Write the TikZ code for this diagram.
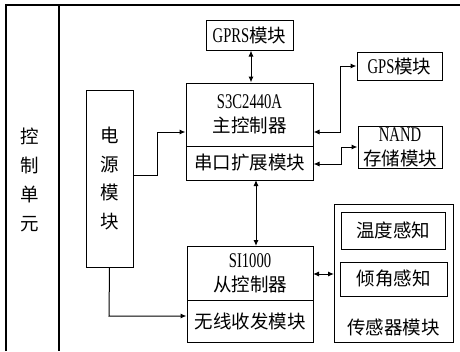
\documentclass[tikz,border=0pt]{standalone}
\usepackage{fontspec}
\setmainfont{Liberation Serif}[FakeStretch=0.7,Scale=1.13]
\newfontfamily\cjk{Noto Sans CJK SC}
\usetikzlibrary{arrows.meta}
\newcommand{\zh}[1]{{\cjk #1}}
\begin{document}
\begin{tikzpicture}[x=1pt,y=-1pt,
  line width=1pt,
  box/.style={draw,rectangle,inner sep=0pt,font=\fontsize{18.5}{24}\selectfont,align=center},
  arr/.style={{Latex[length=6pt,width=5pt]}-{Latex[length=6pt,width=5pt]}},
  onearr/.style={-{Latex[length=6pt,width=5pt]}}]
\useasboundingbox (0,0) rectangle (460,351);
% frame
\draw[line width=1.3pt] (6,351) -- (6,5) -- (460,5);
\draw[line width=1.3pt] (59,5) -- (59,351);
\node[font=\fontsize{18.5}{29}\selectfont,align=center] (ctrl) at (30,180) {\zh{控}\\\zh{制}\\\zh{单}\\\zh{元}};
% boxes
\node[box,minimum width=87pt,minimum height=30pt] (gprs) at (249.5,35) {GPRS\zh{模块}};
\node[box,minimum width=127pt,minimum height=63pt] (main) at (249.5,114.5) {S3C2440A\\\zh{主控制器}};
\node[box,minimum width=127pt,minimum height=34pt] (uart) at (249.5,163) {\zh{串口扩展模块}};
\node[box,minimum width=47pt,minimum height=177pt,font=\fontsize{18.5}{28.5}\selectfont] (power) at (109.5,178.5) {\zh{电}\\\zh{源}\\\zh{模}\\\zh{块}};
\node[box,minimum width=126pt,minimum height=54pt] (si) at (250,273) {SI1000\\\zh{从控制器}};
\node[box,minimum width=126pt,minimum height=42pt] (rf) at (250,321) {\zh{无线收发模块}};
\node[box,minimum width=85pt,minimum height=28pt] (gps) at (399.5,66) {GPS\zh{模块}};
\node[box,minimum width=84pt,minimum height=42pt] (nand) at (400,147) {NAND\\\zh{存储模块}};
\node[box,minimum width=119pt,minimum height=138pt] (sensor) at (393.5,273) {};
\node[box,minimum width=104pt,minimum height=37pt] (temp) at (393,230.5) {\zh{温度感知}};
\node[box,minimum width=107pt,minimum height=34pt] (tilt) at (393.5,279) {\zh{倾角感知}};
\node[font=\fontsize{18.5}{24}\selectfont] (senlab) at (393.5,327) {\zh{传感器模块}};
% helper coordinates
\coordinate (g0) at (251,0);
\coordinate (g1) at (340,132);
\coordinate (n1) at (341,164);
\coordinate (p1) at (157,175);
\coordinate (p2) at (157,132);
\coordinate (q1) at (109,316);
\coordinate (m1) at (256,180);
\coordinate (s1) at (256,246);
\coordinate (t1) at (313,274);
\coordinate (t2) at (334,274);
% connectors
\draw[arr] (gprs.south -| g0) -- (main.north -| g0);
\draw[arr] (gps.west) -- (gps.west -| g1) -- (g1) -- (g1 -| main.east);
\draw[arr] (nand.west) -- (nand.west -| n1) -- (n1) -- (n1 -| uart.east);
\draw[onearr] (power.east |- p1) -- (p1) -- (p2) -- (p2 -| main.west);
\draw[onearr] (power.south) -- (q1) -- (q1 -| rf.west);
\draw[arr] (m1) -- (s1);
\draw[arr] (t1) -- (t2);
\end{tikzpicture}
\end{document}
